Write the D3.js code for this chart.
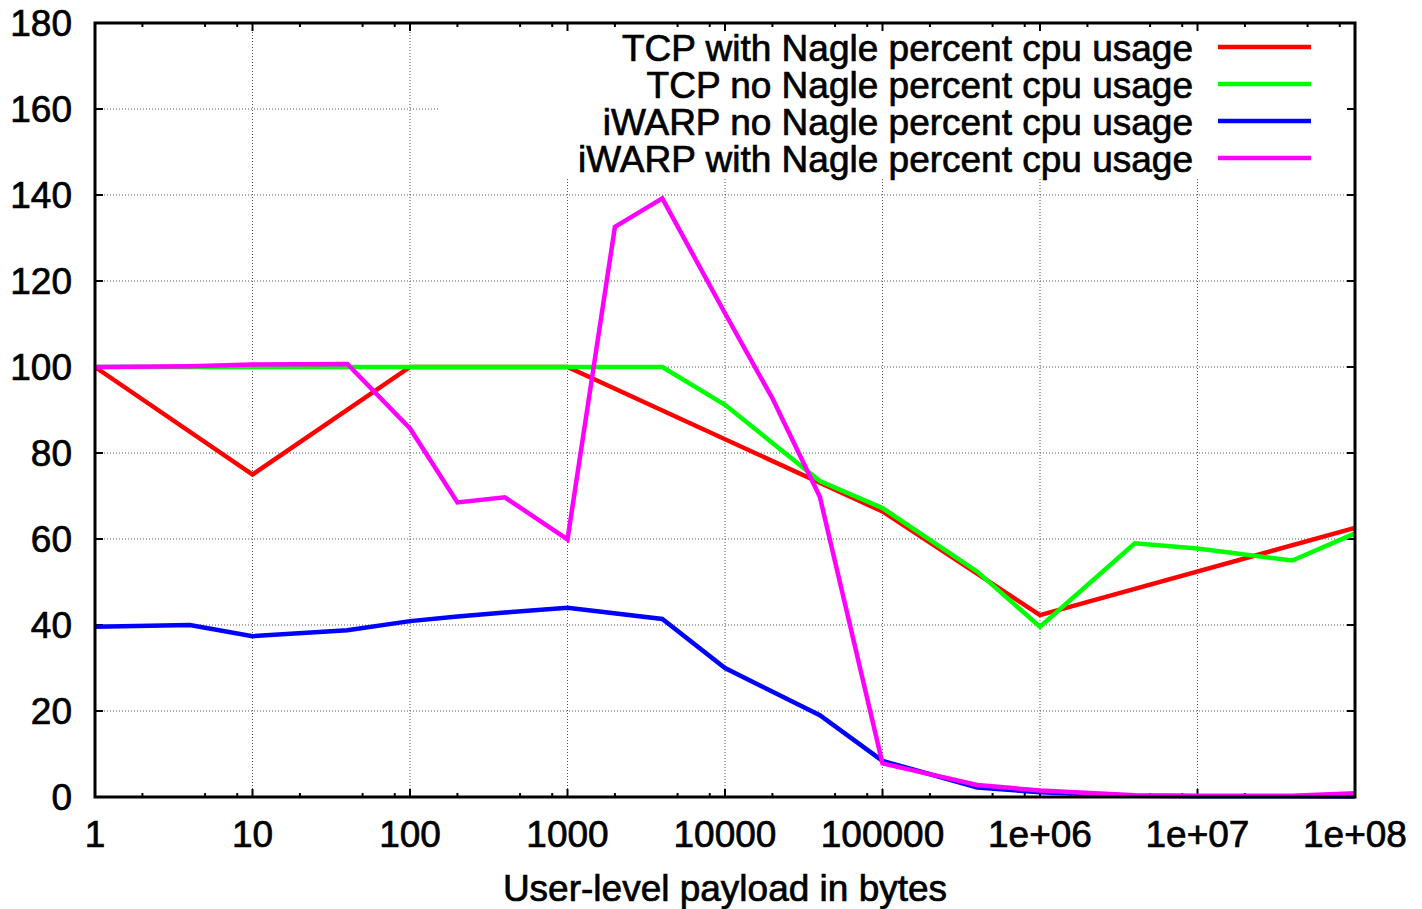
<!DOCTYPE html>
<html>
<head>
<meta charset="utf-8">
<script src="https://cdn.jsdelivr.net/npm/d3@7"></script>
<style>
  html, body { margin: 0; padding: 0; background: #fff; }
  svg { display: block; }
  text { font-family: "Liberation Sans", Arial, Helvetica, sans-serif; fill: #000; stroke: #000; stroke-width: 0.7px; }
</style>
</head>
<body>
<svg id="chart" width="1422" height="909"></svg>
<script>
// Payload sizes (bytes) and percent CPU usage per configuration
const tcpNagleX   = [1, 10, 100, 1000, 1e5, 1e6, 1e8];
const tcpNagleY   = [100, 75, 100, 100, 66.4, 42.3, 62.6];

const tcpNoNagleX = [1, 4, 10, 40, 100, 1000, 4000, 1e4, 4e4, 1e5, 4e5, 1e6, 4e6, 1e7, 4e7, 1e8];
const tcpNoNagleY = [100, 100, 100, 100, 100, 100, 100, 91.2, 73.5, 67.2, 52.4, 39.6, 59, 57.8, 55, 61.3];

const iwarpNoNagleX = [1, 4, 10, 40, 100, 200, 400, 1000, 4000, 1e4, 4e4, 1e5, 4e5, 1e6, 4e6, 1e7, 4e7, 1e8];
const iwarpNoNagleY = [39.6, 40, 37.4, 38.8, 40.9, 42, 42.9, 44, 41.4, 30, 19, 8.4, 2.2, 1.1, 0.3, 0.2, 0.2, 0.1];

const iwarpNagleX = [1, 4, 10, 40, 100, 200, 400, 1000, 2000, 4000, 1e4, 2e4, 4e4, 1e5, 4e5, 1e6, 4e6, 1e7, 4e7, 1e8];
const iwarpNagleY = [100, 100.2, 100.6, 100.7, 85.7, 68.5, 69.7, 59.9, 132.6, 139.2, 112.5, 92.7, 69.8, 7.8, 2.8, 1.5, 0.4, 0.3, 0.3, 0.85];

const seriesNames = [
  "TCP with Nagle percent cpu usage",
  "TCP no Nagle percent cpu usage",
  "iWARP no Nagle percent cpu usage",
  "iWARP with Nagle percent cpu usage"
];
const seriesColors = ["#ff0000", "#00ff00", "#0000ff", "#ff00ff"];

const xTickValues = [1, 10, 100, 1000, 1e4, 1e5, 1e6, 1e7, 1e8];
const xTickLabels = ["1", "10", "100", "1000", "10000", "100000", "1e+06", "1e+07", "1e+08"];
const yTickValues = [0, 20, 40, 60, 80, 100, 120, 140, 160, 180];
const xAxisTitle = "User-level payload in bytes";

const series = [
  { x: tcpNagleX, y: tcpNagleY },
  { x: tcpNoNagleX, y: tcpNoNagleY },
  { x: iwarpNoNagleX, y: iwarpNoNagleY },
  { x: iwarpNagleX, y: iwarpNagleY }
].map((s, i) => ({
  name: seriesNames[i],
  color: seriesColors[i],
  points: s.x.map((xv, j) => ({ x: xv, y: s.y[j] }))
}));

// Layout
const plotLeft = 95, plotRight = 1355, plotTop = 23, plotBottom = 797;
const fontSize = 37;
const svg = d3.select("#chart");

const x = d3.scaleLog().domain([1, 1e8]).range([plotLeft, plotRight]);
const y = d3.scaleLinear().domain([0, 180]).range([plotBottom, plotTop]);

// Minor ticks at 2, 5, 8 within each decade
const minorX = [];
for (let d = 0; d < 8; d++) {
  [2, 5, 8].forEach(m => minorX.push(m * Math.pow(10, d)));
}

// Legend box region (grid is hidden beneath it)
const legendBox = { x0: 440, y0: plotTop, x1: plotRight, y1: 178 };

// Grid lines
const grid = svg.append("g").attr("class", "grid");
grid.selectAll("line.gy")
  .data(yTickValues.filter(v => v > 0 && v < 180))
  .join("line")
  .attr("x1", plotLeft).attr("x2", plotRight)
  .attr("y1", d => y(d)).attr("y2", d => y(d))
  .attr("stroke", "#555").attr("stroke-width", 1)
  .attr("stroke-dasharray", "1,2");
grid.selectAll("line.gx")
  .data(xTickValues.filter(v => v > 1 && v < 1e8))
  .join("line")
  .attr("x1", d => x(d)).attr("x2", d => x(d))
  .attr("y1", plotTop).attr("y2", plotBottom)
  .attr("stroke", "#555").attr("stroke-width", 1)
  .attr("stroke-dasharray", "1,2");

// White legend background covering grid
svg.append("rect")
  .attr("x", legendBox.x0).attr("y", legendBox.y0)
  .attr("width", legendBox.x1 - legendBox.x0)
  .attr("height", legendBox.y1 - legendBox.y0)
  .attr("fill", "#fff");

// Axes (ticks drawn inward on all four sides)
const majorLen = 8, minorLen = 4;
const axisG = svg.append("g").attr("class", "axes");
function xTicks(data, len) {
  axisG.append("g").selectAll("line").data(data).join("line")
    .attr("x1", d => x(d)).attr("x2", d => x(d))
    .attr("y1", plotBottom).attr("y2", plotBottom - len)
    .attr("stroke", "#000").attr("stroke-width", 2);
  axisG.append("g").selectAll("line").data(data).join("line")
    .attr("x1", d => x(d)).attr("x2", d => x(d))
    .attr("y1", plotTop).attr("y2", plotTop + len)
    .attr("stroke", "#000").attr("stroke-width", 2);
}
xTicks(xTickValues, majorLen);
xTicks(minorX, minorLen);
axisG.append("g").selectAll("line").data(yTickValues).join("line")
  .attr("x1", plotLeft).attr("x2", plotLeft + majorLen)
  .attr("y1", d => y(d)).attr("y2", d => y(d))
  .attr("stroke", "#000").attr("stroke-width", 2);
axisG.append("g").selectAll("line").data(yTickValues).join("line")
  .attr("x1", plotRight).attr("x2", plotRight - majorLen)
  .attr("y1", d => y(d)).attr("y2", d => y(d))
  .attr("stroke", "#000").attr("stroke-width", 2);

// Tick labels
svg.append("g").selectAll("text").data(yTickValues).join("text")
  .attr("x", 72).attr("y", d => y(d) + 13)
  .attr("text-anchor", "end")
  .attr("font-size", fontSize)
  .text(d => d);
svg.append("g").selectAll("text").data(xTickValues).join("text")
  .attr("x", d => x(d)).attr("y", 847)
  .attr("text-anchor", "middle")
  .attr("font-size", fontSize)
  .text((d, i) => xTickLabels[i]);

// Axis title
svg.append("text")
  .attr("x", (plotLeft + plotRight) / 2).attr("y", 901)
  .attr("text-anchor", "middle")
  .attr("font-size", fontSize)
  .text(xAxisTitle);

// Data lines
const line = d3.line().x(d => x(d.x)).y(d => y(d.y));
svg.append("g").selectAll("path").data(series).join("path")
  .attr("d", d => line(d.points))
  .attr("fill", "none")
  .attr("stroke", d => d.color)
  .attr("stroke-width", 4.5)
  .attr("stroke-linejoin", "miter");

// Plot border
svg.append("rect")
  .attr("x", plotLeft).attr("y", plotTop)
  .attr("width", plotRight - plotLeft).attr("height", plotBottom - plotTop)
  .attr("fill", "none").attr("stroke", "#000").attr("stroke-width", 3);

// Legend
const legend = svg.append("g").selectAll("g").data(series).join("g")
  .attr("transform", (d, i) => `translate(0, ${47 + i * 37})`);
legend.append("text")
  .attr("x", 1193).attr("y", 14)
  .attr("text-anchor", "end")
  .attr("font-size", fontSize)
  .text(d => d.name);
legend.append("line")
  .attr("x1", 1218).attr("x2", 1311)
  .attr("y1", 0).attr("y2", 0)
  .attr("stroke", d => d.color).attr("stroke-width", 4.5);
</script>
</body>
</html>
